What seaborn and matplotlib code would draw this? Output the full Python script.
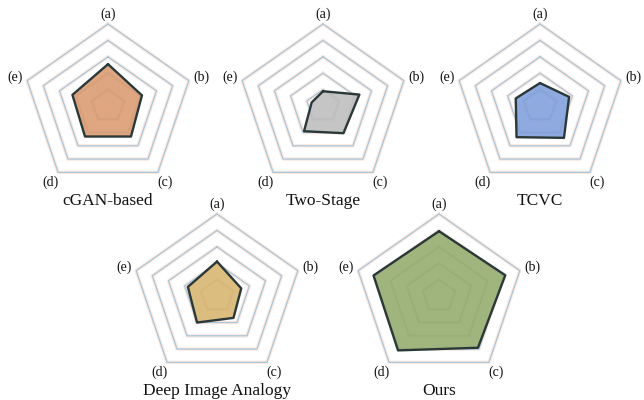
import numpy as np
import pandas as pd
import matplotlib
matplotlib.use("Agg")
import matplotlib.pyplot as plt
import seaborn as sns

# ---- data ----
categories = ['(a)', '(b)', '(c)', '(d)', '(e)']
methods = ['cGAN-based', 'Two-Stage', 'TCVC', 'Deep Image Analogy', 'Ours']
cgan = [0.51, 0.42, 0.46, 0.46, 0.44]
two_stage = [0.18, 0.45, 0.41, 0.38, 0.14]
tcvc = [0.28, 0.36, 0.48, 0.47, 0.30]
dia = [0.42, 0.30, 0.33, 0.40, 0.36]
ours = [0.79, 0.82, 0.78, 0.82, 0.81]
grid_levels = [0.2, 0.4, 0.6, 0.8, 1.0]

series = [cgan, two_stage, tcvc, dia, ours]
fill_colors = ['#da9a70', '#bdbdbd', '#7f9edb', '#d8b46e', '#93ab6c']

sns.set_theme(style='white')
plt.rcParams['font.family'] = ['Liberation Serif', 'DejaVu Serif']

W, H = 644, 400
fig = plt.figure(figsize=(W / 100, H / 100), dpi=100)

# centres (px) and radii (px)
centres = [(108, 106), (323, 106), (540, 106), (217, 296), (439, 296)]
rx, ry = 85, 82

n = len(categories)
angles = np.linspace(0, 2 * np.pi, n, endpoint=False)

for (cx, cy), name, vals, col in zip(centres, methods, series, fill_colors):
    ax = fig.add_axes([(cx - rx) / W, 1 - (cy + ry) / H, 2 * rx / W, 2 * ry / H],
                      projection='polar')
    ax.set_aspect('auto')
    ax.set_theta_offset(np.pi / 2)
    ax.set_theta_direction(-1)
    ax.set_ylim(0, 1)
    ax.grid(False)
    ax.spines['polar'].set_visible(False)
    ax.patch.set_alpha(0)

    th_closed = np.append(angles, angles[0])
    for lv in grid_levels:
        rr = np.full(n + 1, lv)
        ax.plot(th_closed, rr, color='#fbeae2', lw=2.6, zorder=1, clip_on=False)
        ax.plot(th_closed, rr, color='#a8c6da', lw=0.9, zorder=2, clip_on=False)

    v_closed = np.append(vals, vals[0])
    ax.fill(th_closed, v_closed, color=col, alpha=0.88, zorder=3, lw=0)
    df = pd.DataFrame({'theta': th_closed, 'r': v_closed})
    sns.lineplot(data=df, x='theta', y='r', ax=ax, sort=False, color='#2a3838',
                 lw=1.7, zorder=4, estimator=None)
    ax.set_xlabel('')
    ax.set_ylabel('')
    ax.set_xticks([])
    ax.set_yticks([])

    for th, lab in zip(angles, categories):
        rlab = 1.12 if th == 0 else 1.15
        ax.text(th, rlab, lab, ha='center', va='center', fontsize=10,
                color='#111111', clip_on=False)

    fig.text(cx / W, 1 - (cy + ry + 13) / H, name, ha='center', va='center',
             fontsize=12.5, color='#111111')

fig.savefig('out.png', dpi=100, facecolor='white')
